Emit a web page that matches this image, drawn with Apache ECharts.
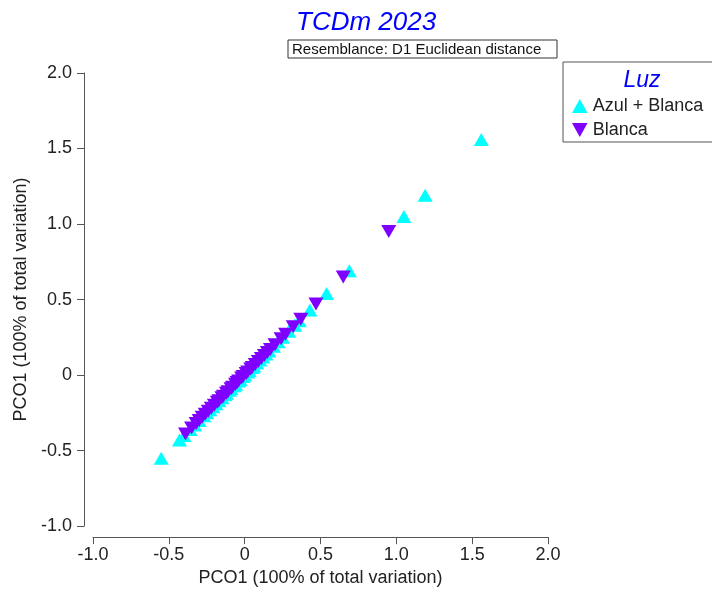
<!DOCTYPE html>
<html>
<head>
<meta charset="utf-8">
<script src="https://cdn.jsdelivr.net/npm/echarts@6/dist/echarts.min.js"></script>
<style>
  html, body { margin: 0; padding: 0; background: #fff; }
  #main { width: 712px; height: 592px; }
</style>
</head>
<body>
<div id="main"></div>
<script>
// PCO1 scores (plotted against themselves, so x = y)
var azulBlanca = [1.56, 1.19, 1.05, 0.69, 0.54, 0.43, 0.36, 0.33, 0.29, 0.25, 0.22, 0.19,
  0.16, 0.14, 0.12, 0.10, 0.08, 0.06, 0.05, 0.03, 0.02, 0.00, -0.01, -0.03, -0.04,
  -0.06, -0.07, -0.09, -0.10, -0.12, -0.13, -0.15, -0.17, -0.19, -0.21, -0.23,
  -0.25, -0.27, -0.30, -0.33, -0.36, -0.40, -0.43, -0.55];
var blanca = [0.95, 0.65, 0.47, 0.37, 0.32, 0.27, 0.24, 0.20, 0.17, 0.15, 0.13, 0.11,
  0.09, 0.07, 0.05, 0.04, 0.02, 0.01, -0.01, -0.02, -0.04, -0.05, -0.06, -0.08,
  -0.09, -0.11, -0.12, -0.14, -0.15, -0.17, -0.18, -0.20, -0.22, -0.24, -0.26,
  -0.28, -0.30, -0.32, -0.35, -0.39];
var seriesNames = ['Azul + Blanca', 'Blanca'];
var axisTicks = [-1.0, -0.5, 0, 0.5, 1.0, 1.5, 2.0];

function pairs(arr) {
  return arr.map(function (v) { return [v, v]; });
}
function tickLabel(v) {
  return v === 0 ? '0' : v.toFixed(1);
}

var chart = echarts.init(document.getElementById('main'));

var font = 'Liberation Sans, Arial, sans-serif';
var axisCommon = {
  type: 'value',
  min: axisTicks[0],
  max: axisTicks[axisTicks.length - 1],
  interval: 0.5,
  splitLine: { show: false },
  axisLine: { show: true, onZero: false, lineStyle: { color: '#555', width: 1 } },
  axisTick: { show: true, length: 7, lineStyle: { color: '#555' } },
  axisLabel: { color: '#222', fontSize: 18, fontFamily: font, formatter: tickLabel },
  nameLocation: 'middle',
  nameTextStyle: { color: '#222', fontSize: 18, fontFamily: font }
};

var option = {
  animation: false,
  backgroundColor: '#fff',
  title: {
    text: 'TCDm 2023',
    left: 291,
    top: 5,
    textStyle: { color: '#0000ff', fontSize: 26, fontStyle: 'italic', fontWeight: 'normal', fontFamily: font }
  },
  grid: { left: 93, right: 164, top: 73, bottom: 64 },
  xAxis: Object.assign({}, axisCommon, {
    name: 'PCO1 (100% of total variation)',
    nameGap: 30,
    offset: 11,
    axisLabel: Object.assign({}, axisCommon.axisLabel, { margin: 9 })
  }),
  yAxis: Object.assign({}, axisCommon, {
    name: 'PCO1 (100% of total variation)',
    nameGap: 52,
    offset: 9,
    axisLabel: Object.assign({}, axisCommon.axisLabel, { margin: 12 })
  }),
  legend: {
    orient: 'vertical',
    left: 567,
    top: 92,
    itemWidth: 16,
    itemHeight: 14,
    itemGap: 6,
    data: [
      { name: seriesNames[0], icon: 'path://M5,0 L10,9 L0,9 Z' },
      { name: seriesNames[1], icon: 'path://M0,0 L10,0 L5,9 Z' }
    ],
    textStyle: { color: '#222', fontSize: 18, fontFamily: font }
  },
  graphic: [
    { type: 'rect', shape: { x: 288, y: 40, width: 269, height: 18 },
      style: { fill: '#fff', stroke: '#333', lineWidth: 1 } },
    { type: 'text', x: 292, y: 50,
      style: { text: 'Resemblance: D1 Euclidean distance', fill: '#111', fontSize: 15,
        fontFamily: font, verticalAlign: 'middle' } },
    { type: 'rect', shape: { x: 563, y: 62, width: 160, height: 80 },
      style: { fill: 'none', stroke: '#555', lineWidth: 1 }, z: -1 },
    { type: 'text', x: 642, y: 81,
      style: { text: 'Luz', fill: '#0000ff', fontSize: 23, fontStyle: 'italic',
        fontFamily: font, align: 'center', verticalAlign: 'middle' } }
  ],
  series: [
    {
      name: seriesNames[0],
      type: 'scatter',
      symbol: 'triangle',
      symbolSize: [15, 13],
      itemStyle: { color: '#00ffff', opacity: 1 },
      data: pairs(azulBlanca)
    },
    {
      name: seriesNames[1],
      type: 'scatter',
      symbol: 'triangle',
      symbolRotate: 180,
      symbolSize: [15, 13],
      itemStyle: { color: '#8000ff', opacity: 1 },
      data: pairs(blanca)
    }
  ]
};

chart.setOption(option);
</script>
</body>
</html>
